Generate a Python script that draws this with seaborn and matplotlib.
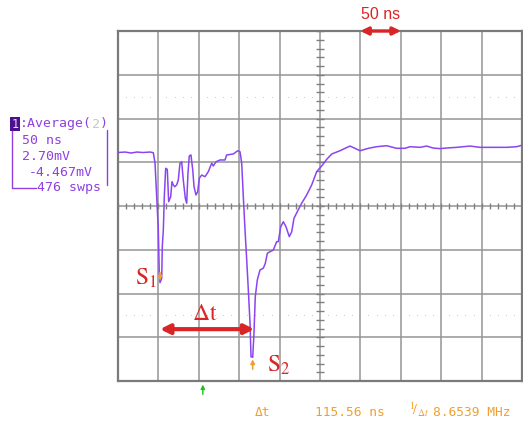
import numpy as np
import pandas as pd
import matplotlib
matplotlib.use("Agg")
import matplotlib.pyplot as plt
import seaborn as sns

# scope settings
time_per_div = 50      # ns
volt_per_div = 2.70    # mV
offset_mv = -4.467
sweeps = 476
delta_t_ns = 115.56
inv_delta_t_mhz = 8.6539

# averaged trace (time in ns, amplitude in mV relative to screen centre)
time_ns = [0, 8.7, 16.1, 23.5, 30.9, 39.6, 43.7, 45.8, 47.9, 49.9, 51.1, 52.0,
           54.1, 54.8, 56.1, 57.3, 59.0, 61.0, 62.7, 65.2, 66.8, 68.4, 70.2,
           72.6, 74.6, 76.7, 78.8, 80.8, 83.3, 85.0, 86.6, 88.2, 90.3, 92.5,
           94.1, 96.5, 98.6, 100.6, 103.6, 107.7, 111.8, 116.0, 118.0, 121.3,
           126.2, 132.4, 134.5, 142.7, 148.1, 151.0, 153.1, 155.1, 157.2,
           159.3, 161.3, 163.4, 164.6, 166.7, 168.3, 169.9, 172.4, 175.7,
           179.8, 182.3, 184.8, 188.1, 192.2, 196.4, 198.4, 201.4, 204.6,
           207.9, 212.0, 215.0, 217.8, 221.9, 227.3, 233.5, 239.7, 245.9,
           252.1, 258.3, 264.5, 274.7, 287.1, 293.3, 299.5, 309.8, 320.2,
           332.5, 344.9, 355.2, 361.4, 373.8, 382.0, 389.8, 398.5, 406.8,
           419.2, 435.6, 448.0, 464.5, 481.1, 493.4, 500.0]
trace_mv = [3.30, 3.33, 3.27, 3.33, 3.30, 3.33, 3.29, 2.65, 0.57, -1.48, -4.18,
            -4.73, -4.46, -2.51, -1.48, 0.57, 2.33, 2.26, 0.27, 0.57, 1.50,
            1.30, 1.19, 1.30, 1.60, 2.64, 2.73, 1.60, 0.48, 0.17, 2.02, 3.09,
            3.15, 2.22, 1.19, 0.68, 0.88, 1.71, 1.91, 1.81, 2.12, 2.64, 2.47,
            2.73, 2.84, 2.84, 3.15, 3.21, 3.41, 3.35, 2.64, 0.57, -1.48,
            -3.33, -5.18, -7.24, -9.30, -9.34, -7.84, -5.60, -4.57, -3.95,
            -3.84, -3.54, -2.92, -2.82, -2.72, -2.20, -2.20, -1.28, -0.97,
            -1.28, -1.89, -1.59, -0.76, -0.35, 0.17, 0.68, 1.30, 2.12, 2.47,
            2.88, 3.21, 3.41, 3.70, 3.56, 3.41, 3.56, 3.66, 3.72, 3.56, 3.56,
            3.66, 3.62, 3.70, 3.58, 3.54, 3.58, 3.62, 3.70, 3.62, 3.62, 3.62,
            3.66, 3.75]

df = pd.DataFrame({"t": time_ns, "v": trace_mv})

sns.set_style("white")
plt.rcParams["mathtext.fontset"] = "stix"

fig = plt.figure(figsize=(5.23, 4.24), dpi=100)
ax = fig.add_axes([118 / 523, 1 - 381 / 424, 404 / 523, 350 / 424])

xmax = 10 * time_per_div
ymax = 4 * volt_per_div
ax.set_xlim(0, xmax)
ax.set_ylim(-ymax, ymax)
ax.set_xticks([])
ax.set_yticks([])
for s in ax.spines.values():
    s.set_color("#7a7a7a")
    s.set_linewidth(1.6)

grid_col = "#959595"
for i in range(1, 10):
    ax.axvline(i * time_per_div, color=grid_col, lw=1.1, zorder=1)
for j in range(-3, 4):
    ax.axhline(j * volt_per_div, color=grid_col, lw=1.1, zorder=1)

# minor ticks on the centre cross
xt = np.arange(0, xmax + 1, time_per_div / 5)
ax.vlines(xt, -0.2, 0.2, color="#808080", lw=1.0, zorder=1)
yt = np.arange(-ymax, ymax + 0.01, volt_per_div / 5)
ax.hlines(yt, xmax / 2 - 5, xmax / 2 + 5, color="#808080", lw=1.0, zorder=1)

# dotted lines at +/- 2.5 div
dots = [x for x in xt if x % time_per_div != 0]
for yy in (2.5 * volt_per_div, -2.5 * volt_per_div):
    ax.scatter(dots, [yy] * len(dots), s=0.25, color="#a8a8a8", zorder=1,
               linewidths=0)

sns.lineplot(data=df, x="t", y="v", sort=False, estimator=None, ax=ax,
             color="#8a45f0", lw=1.1, zorder=3)
ax.set_xlabel("")
ax.set_ylabel("")

# markers S1 / S2 from the trace minima
early = df[df.t < 100]
s1 = early.loc[early.v.idxmin()]
s2 = df.loc[df.v.idxmin()]
orange = "#f0a030"
red = "#d92525"

ax.annotate("", xy=(s1.t, s1.v - 0.05), xytext=(s1.t, s1.v + 0.8),
            arrowprops=dict(arrowstyle="-|>", color=orange, lw=1.2,
                            mutation_scale=6), zorder=4)
ax.annotate("", xy=(s2.t, s2.v + 0.05), xytext=(s2.t, s2.v - 0.9),
            arrowprops=dict(arrowstyle="-|>", color=orange, lw=1.2,
                            mutation_scale=6), zorder=4)
ax.text(s1.t - 4, s1.v + 0.3, r"$\mathrm{S}_{1}$", color=red, fontsize=17,
        ha="right", va="center")
ax.text(s2.t + 18, s2.v - 0.45, r"$\mathrm{S}_{2}$", color=red, fontsize=17,
        ha="left", va="center")

ydt = -7.6
ax.annotate("", xy=(s1.t, ydt), xytext=(s2.t + 2, ydt),
            arrowprops=dict(arrowstyle="<|-|>", color=red, lw=3,
                            mutation_scale=14, shrinkA=0, shrinkB=0), zorder=5)
ax.text((s1.t + s2.t) / 2 - 2, ydt + 0.25, r"$\Delta\mathrm{t}$", color=red,
        fontsize=17, ha="center", va="bottom")

# 50 ns scale marker on top border
ax.annotate("", xy=(6 * time_per_div, ymax), xytext=(7 * time_per_div, ymax),
            arrowprops=dict(arrowstyle="<|-|>", color=red, lw=2.4,
                            mutation_scale=11, shrinkA=0, shrinkB=0),
            annotation_clip=False, zorder=5)
ax.text(6.5 * time_per_div, ymax + 0.55, f"{time_per_div} ns", color=red,
        fontsize=11.5, ha="center", va="bottom", family="Liberation Sans")

# trigger marker
ax.annotate("", xy=(105, -ymax - 0.05), xytext=(105, -ymax - 1.0),
            arrowprops=dict(arrowstyle="-|>", color="#20c020", lw=1.0,
                            mutation_scale=6), annotation_clip=False)

# channel info box
purple = "#9040e0"
mono = dict(family="DejaVu Sans Mono", fontsize=9.5, color=purple, va="center")
H = 424
fig.text(15 / 523, 1 - 124 / H, "1", family="DejaVu Sans Mono", fontsize=8.5,
         color="#e8d8ff", ha="center", va="center",
         bbox=dict(boxstyle="square,pad=0.08", fc="#4a1090", ec="none"))
fig.text(20 / 523, 1 - 124 / H, ":Average(", ha="left", **mono)
fig.text(92 / 523, 1 - 124 / H, "2", ha="left",
         **{**mono, "color": "#c8c8c8"})
fig.text(100 / 523, 1 - 124 / H, ")", ha="left", **mono)
fig.text(22 / 523, 1 - 140 / H, f"{time_per_div} ns", ha="left", **mono)
fig.text(22 / 523, 1 - 156 / H, f"{volt_per_div:.2f}mV", ha="left", **mono)
fig.text(29 / 523, 1 - 172 / H, f"{offset_mv:.3f}mV", ha="left", **mono)
fig.text(37 / 523, 1 - 188 / H, f"{sweeps} swps", ha="left", **mono)
fig.add_artist(plt.Line2D([12 / 523, 12 / 523, 36 / 523],
                          [1 - 130 / H, 1 - 188 / H, 1 - 188 / H],
                          color=purple, lw=1.0))
fig.add_artist(plt.Line2D([107 / 523, 107 / 523],
                          [1 - 130 / H, 1 - 185 / H], color=purple, lw=1.0))

# measurement readout
ro = dict(family="DejaVu Sans Mono", fontsize=9.3, color=orange, va="center")
fig.text(255 / 523, 1 - 412 / H, "\u0394t", ha="left", **ro)
fig.text(315 / 523, 1 - 412 / H, f"{delta_t_ns:.2f} ns", ha="left", **ro)
fig.text(409 / 523, 1 - 410 / H, r"$^{1}\!/_{\Delta t}$", ha="left",
         fontsize=10, color=orange, va="center")
fig.text(433 / 523, 1 - 412 / H, f"{inv_delta_t_mhz:.4f} MHz", ha="left", **ro)

fig.savefig("out.png", dpi=100)
